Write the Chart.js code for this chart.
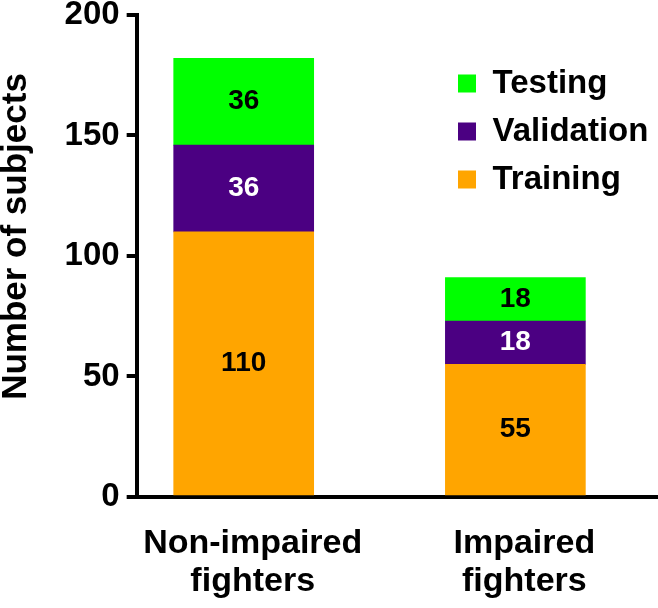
<!DOCTYPE html>
<html>
<head>
<meta charset="utf-8">
<script src="https://cdn.jsdelivr.net/npm/chart.js@4/dist/chart.umd.min.js"></script>
<style>
    html, body { margin: 0; padding: 0; background: #fff; }
    #wrap { width: 658px; height: 608px; }
</style>
</head>
<body>
<div id="wrap"><canvas id="subjectsChart"></canvas></div>
<script>
// ---------- data ----------
const groups = [["Non-impaired", "fighters"], ["Impaired", "fighters"]];
const groupPos = [0, 1];
const training = [110, 55];
const validation = [36, 18];
const testing = [36, 18];
const yTicks = [0, 50, 100, 150, 200];

const FONT = "'Liberation Sans', Arial, Helvetica, sans-serif";

function toPoints(values) {
    return values.map((v, i) => ({ x: groupPos[i], y: v }));
}

// value labels centred in each stacked segment
const segmentLabels = {
    id: 'segmentLabels',
    afterDatasetsDraw(chart) {
        const ctx = chart.ctx;
        ctx.save();
        ctx.font = `bold 28px ${FONT}`;
        ctx.textAlign = 'center';
        ctx.textBaseline = 'middle';
        chart.data.datasets.forEach((ds, di) => {
            const meta = chart.getDatasetMeta(di);
            meta.data.forEach((bar, i) => {
                ctx.fillStyle = ds.labelColor;
                ctx.fillText(ds.data[i].y, bar.x, (bar.y + bar.base) / 2);
            });
        });
        ctx.restore();
    }
};

// legend sits inside the plot, upper right
const legendInside = {
    id: 'legendInside',
    afterLayout(chart) {
        const lg = chart.legend;
        const area = chart.chartArea;
        const w = lg.width;
        lg.left = area.right - 215;
        lg.right = lg.left + w;
        lg.top = area.top + 37;
        lg.bottom = area.bottom;
    }
};

new Chart(document.getElementById('subjectsChart'), {
    type: 'bar',
    data: {
        datasets: [
            { label: 'Training', data: toPoints(training), backgroundColor: '#FFA500', labelColor: '#000' },
            { label: 'Validation', data: toPoints(validation), backgroundColor: '#4B0082', labelColor: '#fff' },
            { label: 'Testing', data: toPoints(testing), backgroundColor: '#00FF00', labelColor: '#000' }
        ]
    },
    options: {
        responsive: true,
        maintainAspectRatio: false,
        animation: false,
        layout: { padding: 0 },
        datasets: { bar: { barThickness: 140, borderWidth: 0 } },
        scales: {
            x: {
                type: 'linear',
                stacked: true,
                offset: false,
                min: -0.394,
                max: 1.525,
                afterBuildTicks: (scale) => { scale.ticks = groupPos.map(v => ({ value: v })); },
                afterFit: (scale) => { scale.height = 111; },
                grid: { display: false, drawTicks: false, tickLength: 0 },
                border: { display: true, color: '#000', width: 4 },
                ticks: {
                    color: '#000',
                    padding: 28,
                    labelOffset: 9,
                    maxRotation: 0,
                    autoSkip: false,
                    font: { family: FONT, size: 34, weight: 'bold', lineHeight: 1.12 },
                    callback: (v) => groups[groupPos.indexOf(v)]
                }
            },
            y: {
                stacked: true,
                min: yTicks[0],
                max: yTicks[yTicks.length - 1],
                afterBuildTicks: (scale) => { scale.ticks = yTicks.map(v => ({ value: v })); },
                grid: { drawOnChartArea: false, color: '#000', lineWidth: 4, tickLength: 10 },
                border: { display: true, color: '#000', width: 4 },
                ticks: {
                    color: '#000',
                    padding: 7,
                    font: { family: FONT, size: 33, weight: 'bold', lineHeight: 0.48 }
                },
                title: {
                    display: true,
                    text: '    Number of subjects',
                    color: '#000',
                    padding: { top: 0, bottom: 24 },
                    font: { family: FONT, size: 35, weight: 'bold', lineHeight: 0.96 }
                }
            }
        },
        plugins: {
            legend: {
                position: 'chartArea',
                fullSize: false,
                align: 'start',
                reverse: true,
                labels: {
                    color: '#000',
                    boxWidth: 18,
                    boxHeight: 18,
                    padding: 15,
                    font: { family: FONT, size: 33, weight: 'bold' }
                }
            },
            tooltip: { enabled: false }
        }
    },
    plugins: [segmentLabels, legendInside]
});
</script>
</body>
</html>
